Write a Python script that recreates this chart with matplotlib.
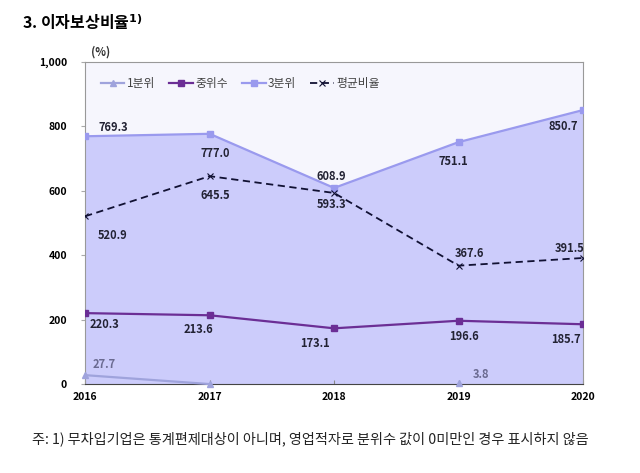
import numpy as np
import matplotlib.pyplot as plt

plt.rcParams['font.family'] = ['Noto Sans CJK KR', 'DejaVu Sans']

# ---- data ----
years = [2016, 2017, 2018, 2019, 2020]
q1 = [27.7, 0.0, np.nan, 3.8, np.nan]      # 1분위 (negative values not shown)
median = [220.3, 213.6, 173.1, 196.6, 185.7]  # 중위수
q3 = [769.3, 777.0, 608.9, 751.1, 850.7]      # 3분위
avg = [520.9, 645.5, 593.3, 367.6, 391.5]     # 평균비율

q1_labels = ["27.7", None, None, "3.8", None]

# label offsets (points)
off_q3 = [(20, 6), (4, -14), (-2, 8), (-4, -14), (-14, -12)]
off_avg = [(20, -14), (4, -14), (-2, -8), (8, 9), (-10, 7)]
off_med = [(14, -8), (-8, -10), (-14, -11), (4, -11), (-12, -11)]
off_q1 = [(14, 8), None, None, (16, 6), None]

c_q1 = "#9fa3dc"
c_med = "#6b2e95"
c_q3 = "#9a9aee"
c_fill = "#ccccfb"
c_bg = "#f6f6fd"

fig = plt.figure(figsize=(6.4, 4.73), dpi=100)
ax = fig.add_axes([0.133, 0.188, 0.778, 0.681])
ax.set_facecolor(c_bg)

ax.fill_between(years, q3, 0, color=c_fill, zorder=1)
ax.plot(years, q3, color=c_q3, lw=1.6, marker="s", ms=5, label="3분위", zorder=3)
ax.plot(years, avg, color="#111133", lw=1.3, ls=(0, (4, 2.5)), marker="x", ms=5,
        mew=0.8, label="평균비율", zorder=3)
ax.plot(years, median, color=c_med, lw=1.6, marker="s", ms=5, label="중위수", zorder=3)
ax.plot(years, q1, color=c_q1, lw=1.6, marker="^", ms=4, label="1분위", zorder=3,
        clip_on=False)

lab_kw = dict(textcoords="offset points", ha="center", va="center",
              fontsize=8, fontweight="bold", color="#222233", zorder=5)
for i, x in enumerate(years):
    ax.annotate(f"{q3[i]:.1f}", (x, q3[i]), xytext=off_q3[i], **lab_kw)
    ax.annotate(f"{avg[i]:.1f}", (x, avg[i]), xytext=off_avg[i], **lab_kw)
    ax.annotate(f"{median[i]:.1f}", (x, median[i]), xytext=off_med[i], **lab_kw)
    if q1_labels[i]:
        ax.annotate(q1_labels[i], (x, q1[i]), xytext=off_q1[i],
                    **{**lab_kw, "color": "#6a6a90"})

ax.set_xlim(2016, 2020)
ax.set_ylim(0, 1000)
ax.set_xticks(years)
ax.set_xticklabels([str(y) for y in years], fontsize=7.5, fontweight="bold")
ax.set_yticks(range(0, 1001, 200))
ax.set_yticklabels(["0", "200", "400", "600", "800", "1,000"], fontsize=7.5,
                   fontweight="bold")
ax.tick_params(axis="x", direction="in", length=3, color="#888888", pad=6)
ax.tick_params(axis="y", direction="out", length=3, color="#aaaaaa", pad=10)
for s in ["top", "right", "left"]:
    ax.spines[s].set_color("#999999")
    ax.spines[s].set_linewidth(0.8)
ax.spines["bottom"].set_color("#444444")

ax.text(0.012, 1.012, "(%)", transform=ax.transAxes, fontsize=8, fontweight="bold",
        va="bottom", ha="left", color="#333333")

# legend in order 1분위, 중위수, 3분위, 평균비율
h, l = ax.get_legend_handles_labels()
order = [l.index(n) for n in ["1분위", "중위수", "3분위", "평균비율"]]
ax.legend([h[i] for i in order], [l[i] for i in order], loc="upper left",
          bbox_to_anchor=(0.01, 0.985), ncol=4, frameon=False, fontsize=8.5,
          handlelength=2.0, handletextpad=0.2, columnspacing=1.2,
          labelcolor="#444444")

fig.text(0.035, 0.953, r"3. 이자보상비율$^{\mathbf{1)}}$", fontsize=11.5,
         fontweight="bold", va="center", ha="left")
fig.text(0.05, 0.073, "주: 1) 무차입기업은 통계편제대상이 아니며, 영업적자로 분위수 값이 0미만인 경우 표시하지 않음",
         fontsize=10.2, va="center", ha="left", color="#222222")

fig.savefig("out.png", dpi=100)
